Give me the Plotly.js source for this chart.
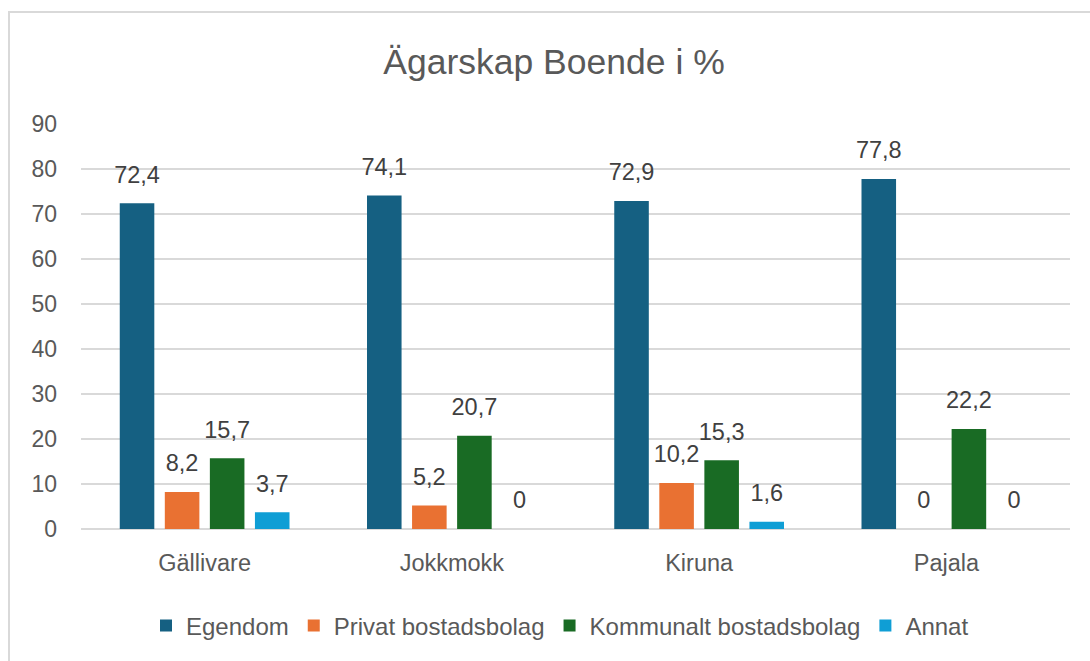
<!DOCTYPE html>
<html>
<head>
<meta charset="utf-8">
<script src="https://cdn.plot.ly/plotly-3.0.1.min.js"></script>
<style>
  html, body { margin: 0; padding: 0; background: #ffffff; overflow: hidden; }
  #chart { width: 1090px; height: 661px; position: relative; }
  #frame { position: absolute; left: 8px; top: 11px; width: 1200px; height: 800px;
           border: 2px solid #d9d9d9; pointer-events: none; box-sizing: border-box; }
</style>
</head>
<body>
<div id="chart"></div>
<div id="frame"></div>
<script>
const titleText = "Ägarskap Boende i %";
const categories = ["Gällivare", "Jokkmokk", "Kiruna", "Pajala"];
const seriesNames = ["Egendom", "Privat bostadsbolag", "Kommunalt bostadsbolag", "Annat"];
const egendom = [72.4, 74.1, 72.9, 77.8];
const privat = [8.2, 5.2, 10.2, 0];
const kommunalt = [15.7, 20.7, 15.3, 22.2];
const annat = [3.7, 0, 1.6, 0];
const yTicks = [0, 10, 20, 30, 40, 50, 60, 70, 80, 90];

const seriesValues = [egendom, privat, kommunalt, annat];
const colors = ["#156082", "#E97132", "#196B24", "#0F9ED5"];
const fontFam = "Liberation Sans, Arial, sans-serif";
const fmt = v => String(v).replace(".", ",");

const traces = [];
seriesValues.forEach((vals, i) => {
  traces.push({
    type: "bar", name: seriesNames[i], x: categories, y: vals,
    marker: { color: colors[i] }, offsetgroup: String(i),
    hoverinfo: "skip"
  });
});
seriesValues.forEach((vals, i) => {
  traces.push({
    type: "scatter", mode: "markers+text", x: categories, y: vals,
    offsetgroup: String(i), showlegend: false,
    marker: { size: 22, opacity: 0, color: colors[i] },
    text: vals.map(fmt), textposition: "top center",
    textfont: { family: fontFam, size: 23.5, color: "#404040" },
    cliponaxis: false, hoverinfo: "skip"
  });
});

const layout = {
  width: 1090, height: 661,
  margin: { l: 81, r: 20, t: 124, b: 132, autoexpand: false },
  paper_bgcolor: "#ffffff", plot_bgcolor: "#ffffff",
  barmode: "group", scattermode: "group",
  bargap: 0.271, bargroupgap: 0.233, scattergap: 0.271,
  title: { text: titleText, x: 554 / 1090, xref: "container", xanchor: "center",
           y: 1 - 62 / 661, yref: "container", yanchor: "middle",
           font: { family: fontFam, size: 35.5, color: "#595959" } },
  xaxis: { type: "category", showgrid: false, showline: false, zeroline: false,
           ticks: "", ticklabelstandoff: 17, tickangle: 0, automargin: false,
           tickfont: { family: fontFam, size: 23.5, color: "#595959" } },
  yaxis: { range: [0, 90], tickvals: yTicks, ticktext: yTicks.map(String),
           showgrid: true, gridcolor: "#d9d9d9", gridwidth: 1.5,
           zeroline: true, zerolinecolor: "#d9d9d9", zerolinewidth: 1.5,
           showline: false, ticks: "", ticklabelstandoff: 23, automargin: false,
           tickfont: { family: fontFam, size: 23, color: "#595959" } },
  legend: { orientation: "h", x: (560 - 81) / 989, xanchor: "center",
            y: (529 - 626) / 405, yanchor: "middle",
            font: { family: fontFam, size: 24, color: "#595959" } },
  showlegend: true
};

Plotly.newPlot("chart", traces, layout, { displayModeBar: false, staticPlot: true });
</script>
</body>
</html>
